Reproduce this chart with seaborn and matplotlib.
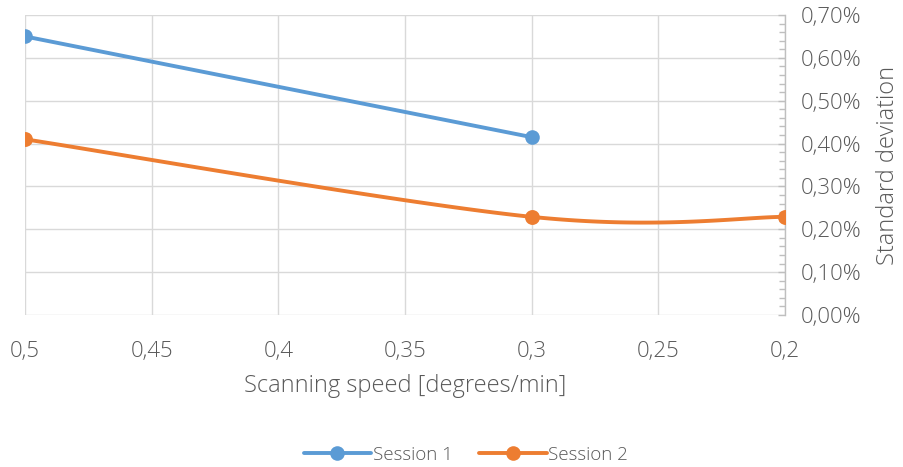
import numpy as np
import pandas as pd
import matplotlib
matplotlib.use("Agg")
import matplotlib.pyplot as plt
from matplotlib.ticker import FuncFormatter, MultipleLocator
from matplotlib.lines import Line2D
import seaborn as sns

# ---- data ----
speed_s1 = [0.5, 0.3]
std_s1 = [0.0065, 0.00415]
speed_s2 = [0.5, 0.3, 0.2]
std_s2 = [0.0041, 0.00229, 0.00229]
x_ticks = [0.5, 0.45, 0.4, 0.35, 0.3, 0.25, 0.2]
y_ticks = [0.0, 0.001, 0.002, 0.003, 0.004, 0.005, 0.006, 0.007]

BLUE = "#5b9bd5"
ORANGE = "#ed7d31"
TXT = "#595959"
GRID = "#d9d9d9"

sns.set_theme(style="white")
plt.rcParams["font.family"] = ["Open Sans", "DejaVu Sans"]
plt.rcParams["font.weight"] = "light"


def smooth_curve(xs, ys, n=60):
    """Excel-style smoothed line (Catmull-Rom Bezier) through data points."""
    P = np.column_stack([xs, ys]).astype(float)
    out = []
    for i in range(len(P) - 1):
        p_prev = P[i - 1] if i > 0 else P[i]
        p_next = P[i + 2] if i + 2 < len(P) else P[i + 1]
        c1 = P[i] + (P[i + 1] - p_prev) / 6.0
        c2 = P[i + 1] - (p_next - P[i]) / 6.0
        t = np.linspace(0, 1, n)[:, None]
        seg = ((1 - t) ** 3) * P[i] + 3 * ((1 - t) ** 2) * t * c1 + 3 * (1 - t) * t ** 2 * c2 + t ** 3 * P[i + 1]
        out.append(seg if i == 0 else seg[1:])
    c = np.vstack(out)
    return c[:, 0], c[:, 1]


fig = plt.figure(figsize=(9.04, 4.67), dpi=100)
ax = fig.add_axes([25 / 904, 1 - 315 / 467, (785 - 25) / 904, 300 / 467])

df1 = pd.DataFrame({"speed": speed_s1, "std": std_s1})
sns.lineplot(data=df1, x="speed", y="std", ax=ax, color=BLUE, linewidth=2.8,
             marker="o", markersize=10.5, markeredgewidth=0, sort=False, zorder=3)

cx, cy = smooth_curve(speed_s2, std_s2)
ax.plot(cx, cy, color=ORANGE, linewidth=2.8, zorder=3, solid_capstyle="round")
df2 = pd.DataFrame({"speed": speed_s2, "std": std_s2})
sns.scatterplot(data=df2, x="speed", y="std", ax=ax, color=ORANGE, s=115,
                linewidth=0, zorder=4)

ax.set_xlim(0.5, 0.2)
ax.set_ylim(0, 0.007)
ax.set_xticks(x_ticks)
ax.set_yticks(y_ticks)
ax.yaxis.set_minor_locator(MultipleLocator(0.0002))
ax.xaxis.set_major_formatter(FuncFormatter(lambda v, p: f"{v:g}".replace(".", ",")))
ax.yaxis.set_major_formatter(FuncFormatter(lambda v, p: f"{v*100:.2f}%".replace(".", ",")))

ax.yaxis.tick_right()
ax.yaxis.set_label_position("right")
ax.grid(True, color=GRID, linewidth=1.0)
ax.set_axisbelow(True)
for s in ["top", "left", "bottom"]:
    ax.spines[s].set_visible(False)
ax.spines["right"].set_color("#bfbfbf")
ax.spines["right"].set_linewidth(1.0)

ax.tick_params(axis="y", which="major", direction="in", length=5, width=1,
               color="#bfbfbf", labelsize=16, labelcolor=TXT, pad=11, right=True)
ax.tick_params(axis="y", which="minor", direction="in", length=4, width=1,
               color="#bfbfbf", right=True)
ax.tick_params(axis="x", length=0, labelsize=16, labelcolor=TXT, pad=19)

ax.set_xlabel("Scanning speed [degrees/min]", fontsize=17, color=TXT, labelpad=8,
              fontweight="light")
ax.set_ylabel("Standard deviation", fontsize=17, color=TXT, labelpad=11,
              fontweight="light")

handles = [
    Line2D([], [], color=BLUE, linewidth=2.8, marker="o", markersize=10.5, markeredgewidth=0),
    Line2D([], [], color=ORANGE, linewidth=2.8, marker="o", markersize=10.5, markeredgewidth=0),
]
fig.legend(handles, ["Session 1", "Session 2"], loc="center", bbox_to_anchor=(466 / 904, 1 - 455 / 467),
           ncol=2, frameon=False, fontsize=13.5, labelcolor=TXT, handlelength=3.6,
           handletextpad=0.1, columnspacing=1.4)

fig.savefig("out.png", dpi=100)
